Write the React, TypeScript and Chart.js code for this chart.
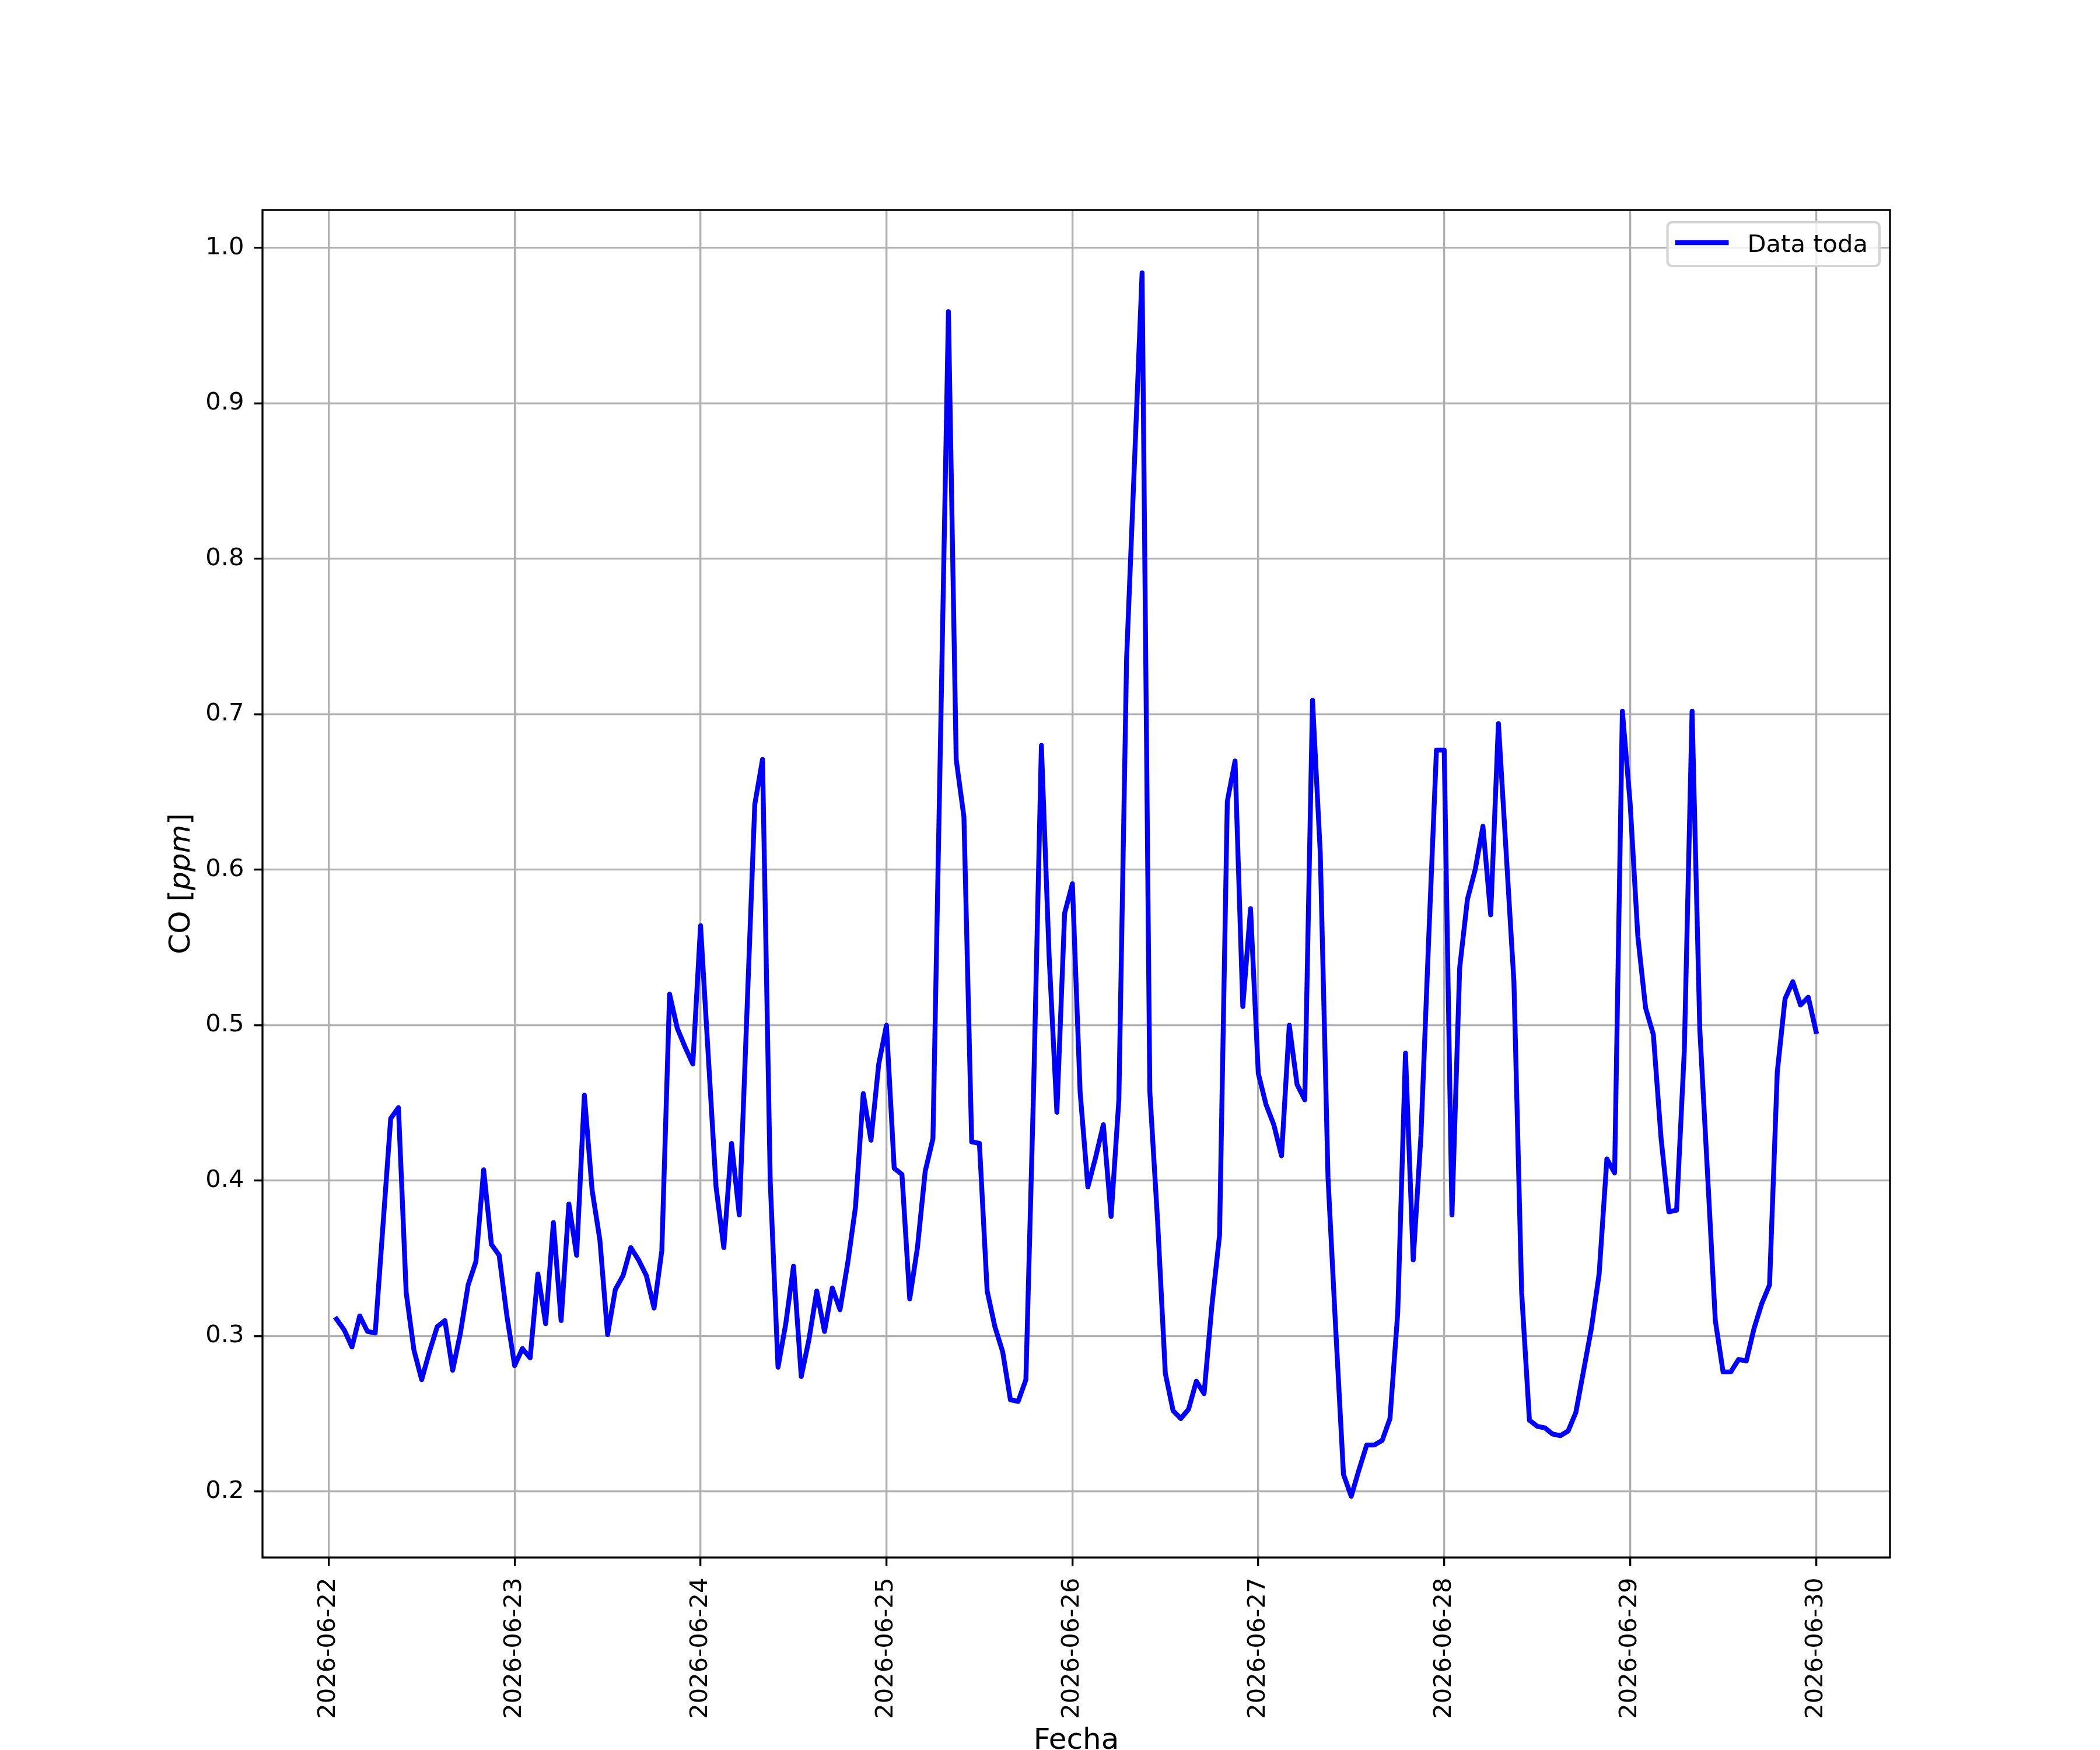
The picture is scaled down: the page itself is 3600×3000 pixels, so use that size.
import { useEffect, useRef } from "react";
import Chart from "chart.js/auto";

// fechas de los ticks del eje x (cada 24 h desde 2026-06-22 00:00)
const dayLabels = [
  "2026-06-22",
  "2026-06-23",
  "2026-06-24",
  "2026-06-25",
  "2026-06-26",
  "2026-06-27",
  "2026-06-28",
  "2026-06-29",
  "2026-06-30",
];
const dayTicks = [0, 24, 48, 72, 96, 120, 144, 168, 192];
const yTicks = [0.2, 0.3, 0.4, 0.5, 0.6, 0.7, 0.8, 0.9, 1.0];

// CO horario [ppm], de 01:00 a 24:00 de cada día
const co22 = [
  0.311, 0.304, 0.293, 0.313, 0.303, 0.302, 0.371, 0.44, 0.447, 0.328, 0.291, 0.272,
  0.29, 0.306, 0.31, 0.278, 0.302, 0.333, 0.348, 0.407, 0.359, 0.352, 0.313, 0.281,
];
const co23 = [
  0.292, 0.286, 0.34, 0.308, 0.373, 0.31, 0.385, 0.352, 0.455, 0.394, 0.362, 0.301,
  0.33, 0.339, 0.357, 0.349, 0.339, 0.318, 0.355, 0.52, 0.498, 0.486, 0.475, 0.564,
];
const co24 = [
  0.48, 0.396, 0.357, 0.424, 0.378, 0.51, 0.642, 0.671, 0.399, 0.28, 0.308, 0.345,
  0.274, 0.298, 0.329, 0.303, 0.331, 0.317, 0.347, 0.383, 0.456, 0.426, 0.475, 0.5,
];
const co25 = [
  0.408, 0.404, 0.324, 0.357, 0.406, 0.427, 0.69, 0.959, 0.671, 0.634, 0.425, 0.424,
  0.329, 0.306, 0.29, 0.259, 0.258, 0.272, 0.46, 0.68, 0.544, 0.444, 0.572, 0.591,
];
const co26 = [
  0.457, 0.396, 0.415, 0.436, 0.377, 0.452, 0.736, 0.86, 0.984, 0.457, 0.374, 0.276,
  0.252, 0.247, 0.253, 0.271, 0.263, 0.319, 0.365, 0.644, 0.67, 0.512, 0.575, 0.469,
];
const co27 = [
  0.449, 0.436, 0.416, 0.5, 0.462, 0.452, 0.709, 0.611, 0.402, 0.304, 0.211, 0.197,
  0.214, 0.23, 0.23, 0.233, 0.247, 0.315, 0.482, 0.349, 0.429, 0.556, 0.677, 0.677,
];
const co28 = [
  0.378, 0.537, 0.581, 0.6, 0.628, 0.571, 0.694, 0.611, 0.528, 0.328, 0.246, 0.242,
  0.241, 0.237, 0.236, 0.239, 0.251, 0.278, 0.305, 0.34, 0.414, 0.405, 0.702, 0.643,
];
const co29 = [
  0.557, 0.511, 0.494, 0.427, 0.38, 0.381, 0.484, 0.702, 0.497, 0.404, 0.31, 0.277,
  0.277, 0.285, 0.284, 0.305, 0.321, 0.333, 0.47, 0.517, 0.528, 0.513, 0.518, 0.496,
];

const coSeries = [...co22, ...co23, ...co24, ...co25, ...co26, ...co27, ...co28, ...co29];
const seriesLabel = "Data toda";

const FONT = '"DejaVu Sans"';
const FS = 41.67; // 10 pt a 300 dpi
const FS_LABEL = 50; // 12 pt
const LW = 3.33;
const LINE_W = 8.33;

const decorPlugin = {
  id: "decor",
  afterDraw(chart: any) {
    const { ctx, chartArea: a } = chart;
    ctx.save();

    // marco
    ctx.strokeStyle = "#000";
    ctx.lineWidth = LW;
    ctx.strokeRect(a.left, a.top, a.right - a.left, a.bottom - a.top);

    // leyenda
    ctx.font = `${FS}px ${FONT}`;
    const label = chart.data.datasets[0].label;
    const tw = ctx.measureText(label).width;
    const right = a.right - 18;
    const top = a.top + 21;
    const w = 13 + 92 + 32 + tw + 20;
    const left = right - w;
    ctx.beginPath();
    ctx.roundRect(left, top, w, 75, 8);
    ctx.fillStyle = "rgba(255,255,255,0.8)";
    ctx.fill();
    ctx.strokeStyle = "#d4d4d4";
    ctx.lineWidth = 4.17;
    ctx.stroke();
    ctx.beginPath();
    ctx.moveTo(left + 13, top + 35);
    ctx.lineTo(left + 105, top + 35);
    ctx.strokeStyle = "#0000ff";
    ctx.lineWidth = LINE_W;
    ctx.stroke();
    ctx.fillStyle = "#000";
    ctx.textBaseline = "alphabetic";
    ctx.textAlign = "left";
    ctx.fillText(label, left + 137, top + 51);

    // título eje x
    ctx.font = `${FS_LABEL}px ${FONT}`;
    ctx.textAlign = "center";
    ctx.fillText("Fecha", (a.left + a.right) / 2, 2998);

    // título eje y: CO [ppm] con ppm en cursiva
    const parts: [string, string][] = [
      ["CO [", `${FS_LABEL}px ${FONT}`],
      ["ppm", `italic ${FS_LABEL}px ${FONT}`],
      ["]", `${FS_LABEL}px ${FONT}`],
    ];
    let total = 0;
    const widths = parts.map(([t, f]) => {
      ctx.font = f;
      const m = ctx.measureText(t).width;
      total += m;
      return m;
    });
    ctx.translate(325, (a.top + a.bottom) / 2);
    ctx.rotate(-Math.PI / 2);
    ctx.textAlign = "left";
    let x = -total / 2;
    parts.forEach(([t, f], i) => {
      ctx.font = f;
      ctx.fillText(t, x, 0);
      x += widths[i];
    });
    ctx.restore();
  },
};

export default function App() {
  const canvasRef = useRef<HTMLCanvasElement>(null);

  useEffect(() => {
    if (!canvasRef.current) return;
    Chart.defaults.font.family = FONT;
    Chart.defaults.font.size = FS;
    Chart.defaults.color = "#000";

    const chart = new Chart(canvasRef.current, {
      type: "line",
      data: {
        datasets: [
          {
            label: seriesLabel,
            data: coSeries.map((v, i) => ({ x: i + 1, y: v })),
            borderColor: "#0000ff",
            borderWidth: LINE_W,
            borderJoinStyle: "round",
            borderCapStyle: "square",
            pointRadius: 0,
            tension: 0,
            fill: false,
          },
        ],
      },
      options: {
        responsive: false,
        devicePixelRatio: 1,
        animation: false,
        layout: { padding: { top: 360, right: 360, left: 0, bottom: 0 } },
        plugins: {
          legend: { display: false },
          tooltip: { enabled: false },
        },
        scales: {
          x: {
            type: "linear",
            min: -8.55,
            max: 201.55,
            afterBuildTicks: (s: any) => {
              s.ticks = dayTicks.map((v) => ({ value: v }));
            },
            afterFit: (s: any) => {
              s.height = 330;
            },
            grid: {
              color: "#b0b0b0",
              lineWidth: LW,
              tickColor: "#000",
              tickLength: 14.6,
              tickWidth: LW,
            },
            border: { display: false },
            ticks: {
              autoSkip: false,
              minRotation: 90,
              maxRotation: 90,
              padding: 20,
              callback: (v: any) => dayLabels[Math.round(Number(v) / 24)],
            },
          },
          y: {
            type: "linear",
            min: 0.1576,
            max: 1.0244,
            afterBuildTicks: (s: any) => {
              s.ticks = yTicks.map((v) => ({ value: v }));
            },
            afterFit: (s: any) => {
              s.width = 450;
            },
            grid: {
              color: "#b0b0b0",
              lineWidth: LW,
              tickColor: "#000",
              tickLength: 14.6,
              tickWidth: LW,
            },
            border: { display: false },
            ticks: {
              padding: 17,
              callback: (v: any) => Number(v).toFixed(1),
            },
          },
        },
      },
      plugins: [decorPlugin],
    });

    return () => {
      chart.destroy();
    };
  }, []);

  return (
    <div style={{ position: "absolute", left: 0, top: 0, width: 3600, height: 3000, background: "#fff" }}>
      <canvas ref={canvasRef} width={3600} height={3000} style={{ display: "block", width: 3600, height: 3000 }} />
    </div>
  );
}
